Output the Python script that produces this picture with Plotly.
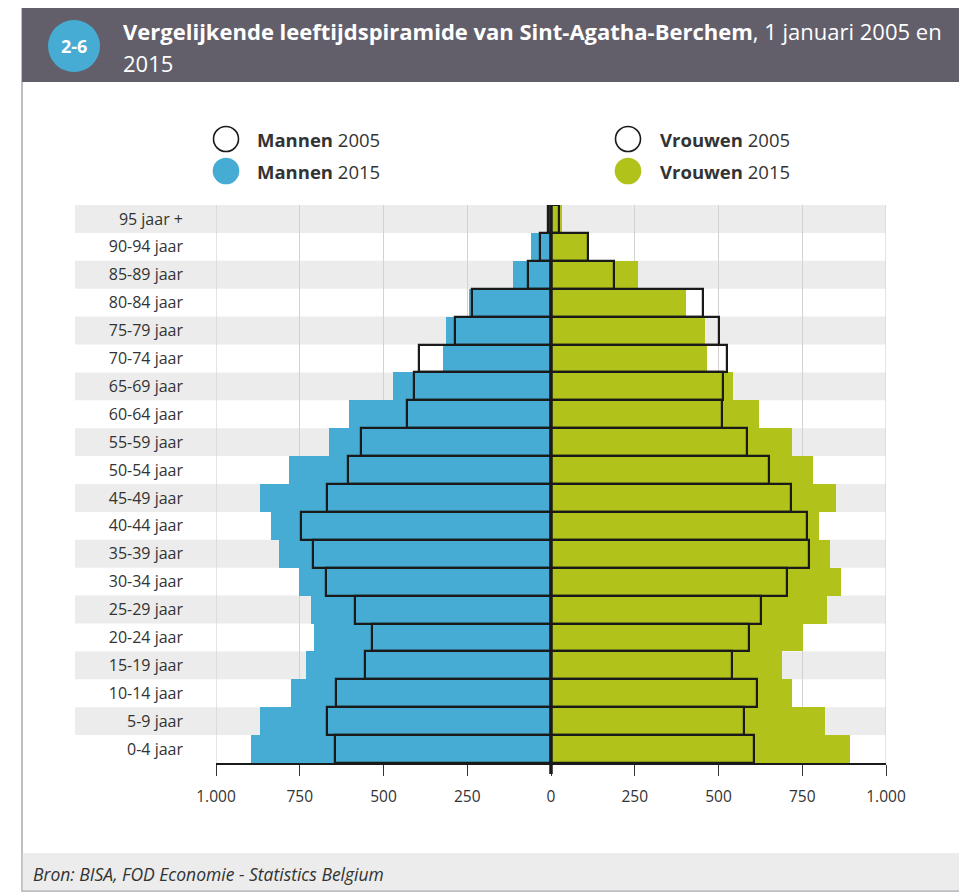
import plotly.graph_objects as go

# ---------------- data ----------------
age_groups = ["0-4 jaar", "5-9 jaar", "10-14 jaar", "15-19 jaar", "20-24 jaar",
              "25-29 jaar", "30-34 jaar", "35-39 jaar", "40-44 jaar", "45-49 jaar",
              "50-54 jaar", "55-59 jaar", "60-64 jaar", "65-69 jaar", "70-74 jaar",
              "75-79 jaar", "80-84 jaar", "85-89 jaar", "90-94 jaar", "95 jaar +"]

men_2015 = [897, 870, 777, 732, 706, 717, 753, 813, 837, 870,
            783, 664, 604, 472, 322, 313, 245, 113, 59, 8]
men_2005 = [644, 668, 642, 555, 533, 585, 672, 711, 745, 668,
            607, 568, 431, 409, 395, 288, 237, 68, 33, 10]
women_2015 = [894, 817, 718, 691, 752, 825, 867, 834, 799, 852,
              783, 718, 622, 542, 467, 461, 404, 261, 110, 33]
women_2005 = [605, 575, 614, 541, 591, 627, 703, 770, 763, 716,
              650, 586, 509, 512, 525, 500, 453, 189, 110, 25]

tick_values = [-1000, -750, -500, -250, 0, 250, 500, 750, 1000]
tick_labels = ["1.000", "750", "500", "250", "0", "250", "500", "750", "1.000"]

# ---------------- styling ----------------
OFF = 8  # browser body margin
W, H = 967 - OFF, 893 - OFF
# plot area in page pixels: x 216..886, y 205..763
ML, MR = 216 - OFF, W - (886 - OFF)
MT, MB = 205 - OFF, H - (763 - OFF)
PW, PH = W - ML - MR, H - MT - MB

BLUE = "#46acd3"
GREEN = "#b1c31b"
HEADER = "#625f6b"
BAND = "#ebeceb"
TXT = "#333333"
FONT = "Open Sans"


def px(x):
    return (x - OFF - ML) / PW


def py(y):
    return (H - MB - (y - OFF)) / PH


neg = lambda vals: [-v for v in vals]

fig = go.Figure()
fig.add_trace(go.Bar(y=age_groups, x=neg(men_2015), orientation="h", width=1,
                     marker=dict(color=BLUE, line=dict(width=0)), name="Mannen 2015",
                     hoverinfo="skip"))
fig.add_trace(go.Bar(y=age_groups, x=women_2015, orientation="h", width=1,
                     marker=dict(color=GREEN, line=dict(width=0)), name="Vrouwen 2015",
                     hoverinfo="skip"))
fig.add_trace(go.Bar(y=age_groups, x=neg(men_2005), orientation="h", width=1,
                     marker=dict(color="rgba(0,0,0,0)", line=dict(color="#1a1a1a", width=2.2)),
                     name="Mannen 2005", hoverinfo="skip"))
fig.add_trace(go.Bar(y=age_groups, x=women_2005, orientation="h", width=1,
                     marker=dict(color="rgba(0,0,0,0)", line=dict(color="#1a1a1a", width=2.2)),
                     name="Vrouwen 2005", hoverinfo="skip"))

shapes = []
# outer frame
shapes.append(dict(type="rect", xref="paper", yref="paper",
                   x0=px(22), x1=px(960), y0=py(891), y1=py(8),
                   line=dict(color="#a9a9b1", width=1.5), fillcolor="white", layer="below"))
# header bar
shapes.append(dict(type="rect", xref="paper", yref="paper",
                   x0=px(22), x1=px(961), y0=py(82), y1=py(7),
                   line=dict(width=0), fillcolor=HEADER, layer="below"))
# badge
shapes.append(dict(type="circle", xref="paper", yref="paper",
                   x0=px(48), x1=px(100), y0=py(72), y1=py(20),
                   line=dict(width=0), fillcolor=BLUE, layer="below"))
# footer
shapes.append(dict(type="rect", xref="paper", yref="paper",
                   x0=px(22.7), x1=px(959.3), y0=py(890.3), y1=py(853),
                   line=dict(width=0), fillcolor=BAND, layer="below"))
# alternating bands
for i, _ in enumerate(age_groups):
    if i % 2 == 1:
        shapes.append(dict(type="rect", xref="paper", yref="y",
                           x0=px(75), x1=1, y0=i - 0.5, y1=i + 0.5,
                           line=dict(width=0), fillcolor=BAND, layer="below"))
# edge gridlines
for xv in (tick_values[0], tick_values[-1]):
    shapes.append(dict(type="line", xref="x", yref="paper", x0=xv, x1=xv, y0=0, y1=1,
                       line=dict(color="#d2d2d2", width=1.2), layer="below"))
# centre line
shapes.append(dict(type="line", xref="x", yref="paper", x0=0, x1=0, y0=py(774), y1=1,
                   line=dict(color="#1a1a1a", width=3.5), layer="above"))
# legend markers
for cx, cy, fill, col in [(226, 139, "white", "#1a1a1a"), (226, 171, BLUE, BLUE),
                          (628, 139, "white", "#1a1a1a"), (628, 171, GREEN, GREEN)]:
    shapes.append(dict(type="circle", xref="paper", yref="paper",
                       x0=px(cx - 12.5), x1=px(cx + 12.5), y0=py(cy + 12.5), y1=py(cy - 12.5),
                       line=dict(color=col, width=1.6), fillcolor=fill, layer="above"))

annotations = []


def ann(text, x, y, size, color=TXT, xanchor="left"):
    annotations.append(dict(text=text, x=px(x), y=py(y), xref="paper", yref="paper",
                            xanchor=xanchor, yanchor="middle", showarrow=False,
                            font=dict(family=FONT, size=size, color=color)))


ann("<b>2-6</b>", 74, 46, 18, color="white", xanchor="center")
ann("<b>Vergelijkende leeftijdspiramide van Sint-Agatha-Berchem</b>, 1 januari 2005 en",
    121, 31, 22, color="white")
ann("2015", 121, 63, 22, color="white")
ann("<b>Mannen</b> 2005", 255, 139, 18.5)
ann("<b>Mannen</b> 2015", 255, 171, 18.5)
ann("<b>Vrouwen</b> 2005", 658, 139, 18.5)
ann("<b>Vrouwen</b> 2015", 658, 171, 18.5)
ann("<i>Bron: BISA, FOD Economie - Statistics Belgium</i>", 31, 874, 17.5)

fig.update_layout(
    width=W, height=H,
    margin=dict(l=ML, r=MR, t=MT, b=MB, pad=0),
    paper_bgcolor="white", plot_bgcolor="rgba(0,0,0,0)",
    barmode="overlay", bargap=0, showlegend=False,
    shapes=shapes, annotations=annotations,
    font=dict(family=FONT, color=TXT),
    xaxis=dict(range=[-1000, 1000], tickvals=tick_values, ticktext=tick_labels,
               showgrid=True, gridcolor="#d2d2d2", gridwidth=1, zeroline=False,
               showline=True, linecolor="#1a1a1a", linewidth=1.5,
               ticks="outside", ticklen=11, tickwidth=1.2, tickcolor="#333333",
               ticklabelstandoff=8,
               tickfont=dict(family=FONT, size=15.5, color=TXT), fixedrange=True),
    yaxis=dict(type="category", categoryorder="array", categoryarray=age_groups,
               range=[-0.5, len(age_groups) - 0.5], showgrid=False, zeroline=False,
               showline=False, ticks="", ticklabelstandoff=32,
               tickfont=dict(family=FONT, size=16, color=TXT), fixedrange=True),
)

fig.write_html("out.html", config={"displayModeBar": False})
